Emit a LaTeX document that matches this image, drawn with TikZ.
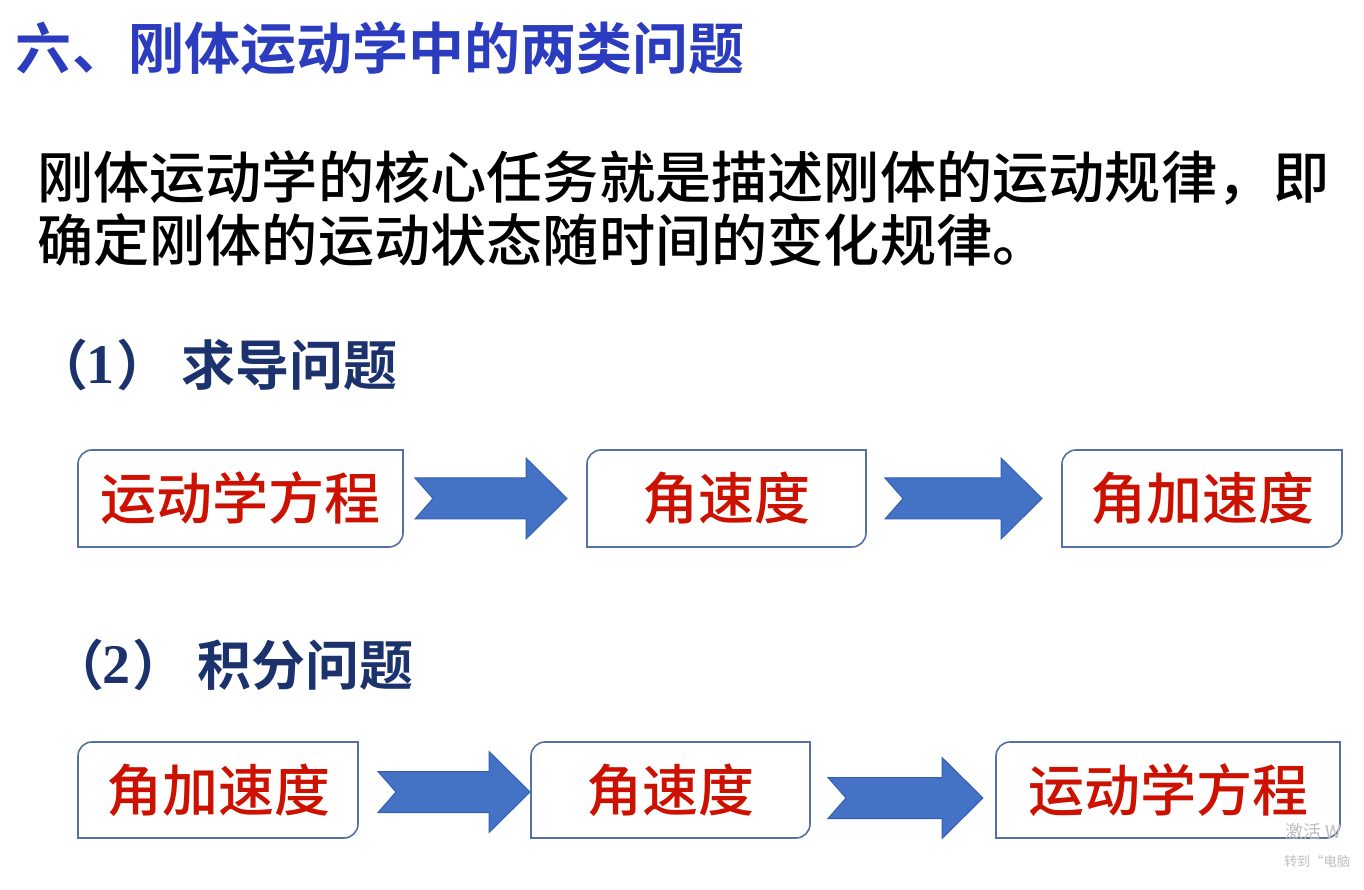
\documentclass[tikz,border=0pt]{standalone}
\usepackage{fontspec}
\newfontfamily\cjk{Noto Sans CJK SC}
\newfontfamily\cjkmed{Noto Sans CJK SC Medium}
\newfontfamily\cjkbold{Noto Sans CJK SC Bold}
\newfontfamily\serifnum{Liberation Serif}
\usetikzlibrary{calc}
\definecolor{titleblue}{RGB}{43,61,190}
\definecolor{headnavy}{RGB}{28,50,108}
\definecolor{boxred}{RGB}{204,17,0}
\definecolor{boxlinecol}{RGB}{84,112,166}
\definecolor{arrowblue}{RGB}{68,114,196}
\definecolor{arrowedge}{RGB}{52,96,176}
\definecolor{wmgray}{RGB}{190,190,190}
\tikzset{
  every node/.style={inner sep=0pt, outer sep=0pt},
  titletext/.style={font=\cjkbold\fontsize{28pt}{30pt}\selectfont, text=titleblue, anchor=west},
  bodytext/.style={font=\cjkmed\fontsize{28.1pt}{30pt}\selectfont, text=black, anchor=west},
  headtext/.style={font=\cjkbold\fontsize{27pt}{29pt}\selectfont, text=headnavy},
  headnum/.style={font=\serifnum\bfseries\fontsize{28pt}{29pt}\selectfont, text=headnavy},
  stepbox/.style={font=\cjkmed\fontsize{28pt}{30pt}\selectfont, text=boxred, minimum height=48.5pt},
  boxedge/.style={draw=boxlinecol, line width=0.8pt},
  blockarrowstyle/.style={fill=arrowblue, draw=arrowedge, line width=0.5pt, line join=miter},
  wmtext/.style={text=wmgray, anchor=west, overlay}
}
\newcommand\roundbox[1]{%
  \draw[boxedge] (#1.south west) -- ([yshift=-7pt]#1.north west)
    arc[start angle=180,end angle=90,radius=7pt] -- (#1.north east)
    -- ([yshift=7pt]#1.south east)
    arc[start angle=0,end angle=-90,radius=7pt] -- cycle;}
\newcommand\blockarrow[2]{%
  \path[blockarrowstyle] let \p1=(#1), \p2=(#2) in
    (\x1,\y1+10.25pt) -- (\x2-20.5pt,\y1+10.25pt) -- (\x2-20.5pt,\y1+20.25pt)
    -- (\x2,\y1) -- (\x2-20.5pt,\y1-20.25pt) -- (\x2-20.5pt,\y1-10.25pt)
    -- (\x1,\y1-10.25pt) -- (\x1+9pt,\y1) -- cycle;}
\begin{document}
\begin{tikzpicture}[x=0.5pt,y=0.5pt]
\fill[white] (0,0) rectangle (1364,889);
\useasboundingbox (0,0) rectangle (1364,889);

% title and text
\node[titletext] (title) at (16,841) {六、刚体运动学中的两类问题};
\node[bodytext] (line1) at (37,711) {刚体运动学的核心任务就是描述刚体的运动规律，即};
\node[bodytext] (line2) at (37,649) {确定刚体的运动状态随时间的变化规律。};

% heading 1
\node[headtext, anchor=east] (h1l) at (88,524) {（};
\node[headnum]  (h1n) at (100,524) {1};
\node[headtext, anchor=west] (h1r) at (116,524) {）};
\node[headtext, anchor=west] (h1t) at (181,524) {求导问题};

% heading 2
\node[headtext, anchor=east] (h2l) at (104,224) {（};
\node[headnum]  (h2n) at (116,224) {2};
\node[headtext, anchor=west] (h2r) at (132,224) {）};
\node[headtext, anchor=west] (h2t) at (197,224) {积分问题};

% row 1 boxes
\node[stepbox, minimum width=162.5pt] (b11) at (240.5,390.5) {运动学方程};
\node[stepbox, minimum width=139.5pt] (b12) at (726.5,390.5) {角速度};
\node[stepbox, minimum width=140pt]   (b13) at (1202,390.5) {角加速度};
\roundbox{b11}\roundbox{b12}\roundbox{b13}
\blockarrow{[xshift=6pt]b11.east}{[xshift=-10pt]b12.west}
\blockarrow{[xshift=9.5pt]b12.east}{[xshift=-10pt]b13.west}

% row 2 boxes
\node[stepbox, minimum width=140pt, minimum height=48pt]   (b21) at (218,99) {角加速度};
\node[stepbox, minimum width=139.5pt, minimum height=48pt] (b22) at (670.5,99) {角速度};
\node[stepbox, minimum width=172pt, minimum height=48pt]   (b23) at (1168,99) {运动学方程};
\roundbox{b21}\roundbox{b22}\roundbox{b23}
\blockarrow{[xshift=10pt,yshift=-1pt]b21.east}{[xshift=-0.5pt]b22.west}
\blockarrow{[xshift=9pt,yshift=-4pt]b22.east}{[xshift=-6.5pt]b23.west}

% watermark
\node[wmtext, font=\cjk\fontsize{9pt}{10pt}\selectfont] (wm1) at (1285,57) {激活 W};
\node[wmtext, font=\cjk\fontsize{6.6pt}{8pt}\selectfont] (wm2) at (1284,28) {转到“电脑};
\end{tikzpicture}
\end{document}
